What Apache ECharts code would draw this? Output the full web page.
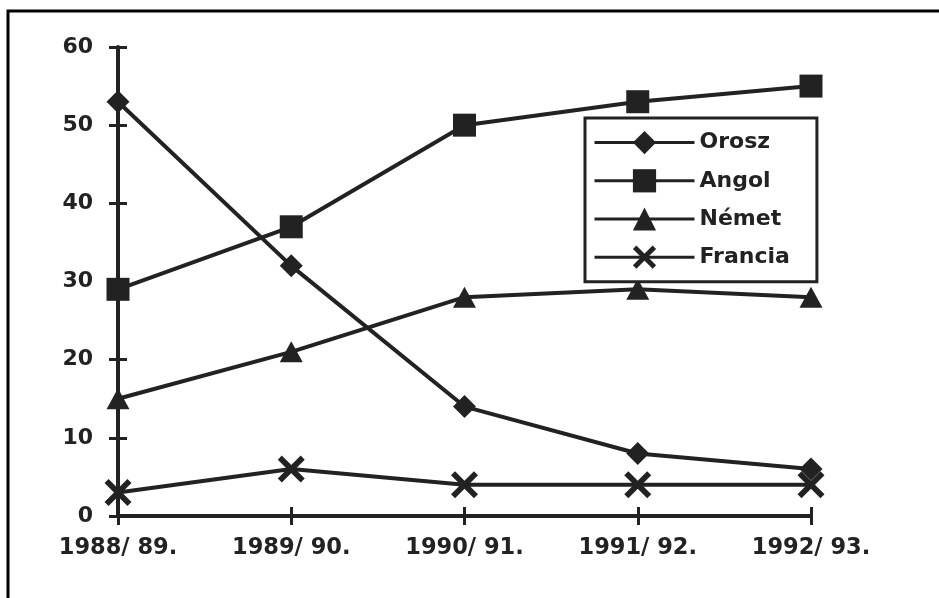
<!DOCTYPE html>
<html>
<head>
<meta charset="utf-8">
<script src="https://cdn.jsdelivr.net/npm/echarts@6/dist/echarts.min.js"></script>
<style>
html,body{margin:0;padding:0;background:#fff;}
#chart{width:939px;height:598px;}
</style>
</head>
<body>
<div id="chart"></div>
<script>
// ---- data ----
var categories = ['1988/ 89.', '1989/ 90.', '1990/ 91.', '1991/ 92.', '1992/ 93.'];
var seriesNames = ['Orosz', 'Angol', 'Német', 'Francia'];
var orosz   = [53, 32, 14, 8, 6];
var angol   = [29, 37, 50, 53, 55];
var nemet   = [15, 21, 28, 29, 28];
var francia = [3, 6, 4, 4, 4];
var yTicks = { min: 0, max: 60, interval: 10 };

var INK = '#222';
var FONT = 'DejaVu Sans';
var crossPath = 'path://M0,15L15,0L100,85L85,100Z M85,0L100,15L15,100L0,85Z';

var chart = echarts.init(document.getElementById('chart'), null, { renderer: 'canvas' });

function mkSeries(name, data, symbol, size, z) {
  return {
    name: name, type: 'line', data: data,
    xAxisIndex: 0, yAxisIndex: 0,
    symbol: symbol, symbolSize: size, showSymbol: true,
    lineStyle: { color: INK, width: 4 },
    itemStyle: { color: INK, borderWidth: 0 },
    z: z, animation: false, emphasis: { disabled: true }
  };
}

chart.setOption({
  animation: false,
  backgroundColor: '#fff',
  grid: { left: 118, right: 128, top: 47, bottom: 82 },
  xAxis: [
    {
      type: 'category', data: categories, boundaryGap: false, position: 'bottom',
      axisLine: { lineStyle: { color: INK, width: 4 } },
      axisTick: { show: true, inside: false, length: 9, lineStyle: { color: INK, width: 3 } },
      axisLabel: { margin: 21, interval: 0, color: INK, fontFamily: FONT, fontWeight: 'bold', fontSize: 22.5 },
      splitLine: { show: false }
    },
    {
      type: 'category', data: categories, boundaryGap: false, position: 'bottom',
      axisLine: { show: false },
      axisTick: { show: true, inside: true, length: 9, lineStyle: { color: INK, width: 3 } },
      axisLabel: { show: false },
      splitLine: { show: false }
    }
  ],
  yAxis: [
    {
      type: 'value', min: yTicks.min, max: yTicks.max, interval: yTicks.interval, position: 'left',
      axisLine: { show: true, lineStyle: { color: INK, width: 4 } },
      axisTick: { show: true, inside: false, length: 9, lineStyle: { color: INK, width: 3 } },
      axisLabel: { margin: 25, color: INK, fontFamily: FONT, fontWeight: 'bold', fontSize: 22 },
      splitLine: { show: false }
    },
    {
      type: 'value', min: yTicks.min, max: yTicks.max, interval: yTicks.interval, position: 'left',
      axisLine: { show: false },
      axisTick: { show: true, inside: true, length: 9, lineStyle: { color: INK, width: 3 } },
      axisLabel: { show: false },
      splitLine: { show: false }
    }
  ],
  legend: {
    orient: 'vertical', left: 585, top: 118,
    data: seriesNames,
    itemWidth: 100, itemHeight: 29, itemGap: 15,
    padding: [13, 27, 13, 8],
    borderColor: INK, borderWidth: 3, backgroundColor: '#fff',
    textStyle: { color: INK, fontFamily: FONT, fontWeight: 'bold', fontSize: 22 },
    lineStyle: { width: 3 },
    selectedMode: false
  },
  graphic: [{
    type: 'polyline', silent: true,
    shape: { points: [[8, 598], [8, 11], [939, 11]] },
    style: { stroke: '#000', lineWidth: 3, fill: null }
  }],
  series: [
    mkSeries(seriesNames[0], orosz, 'diamond', [23, 23], 4),
    mkSeries(seriesNames[1], angol, 'rect', [23, 23], 3),
    mkSeries(seriesNames[2], nemet, 'triangle', [23, 21], 3),
    mkSeries(seriesNames[3], francia, crossPath, [27, 27], 2)
  ]
});
</script>
</body>
</html>
